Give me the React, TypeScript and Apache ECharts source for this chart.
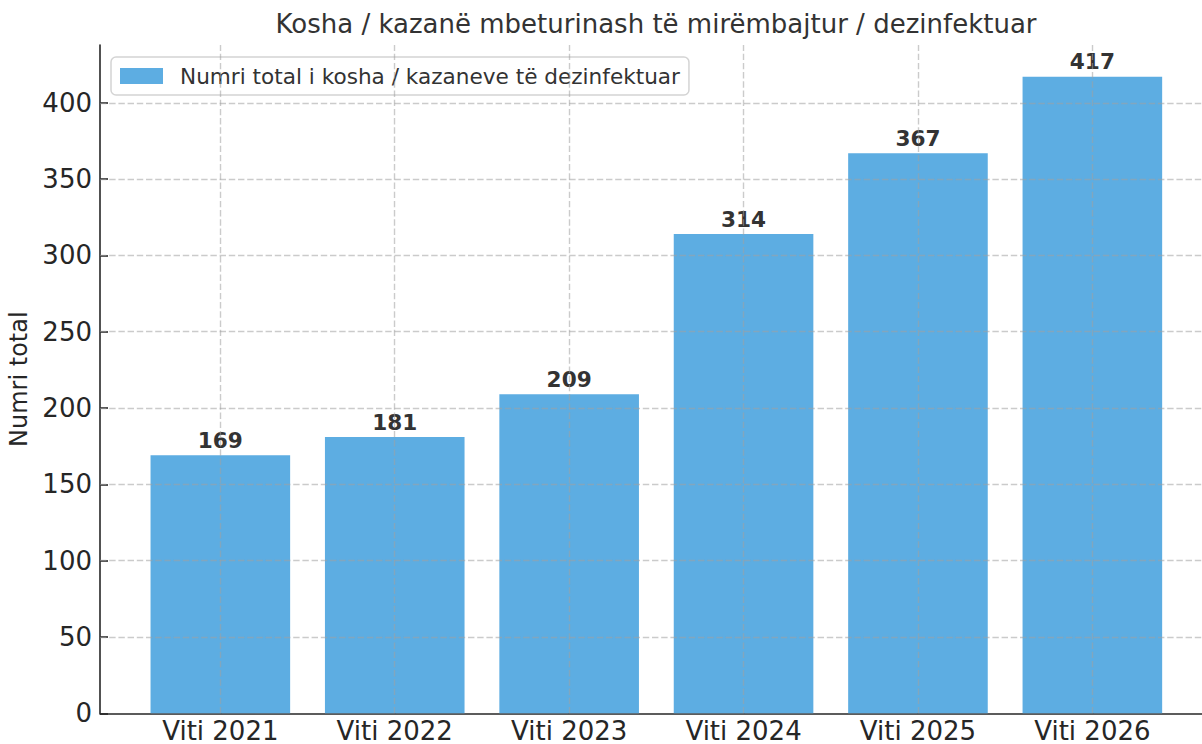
import React, { useEffect, useRef } from "react";
import * as echarts from "echarts";

const titleText = "Kosha / kazanë mbeturinash të mirëmbajtur / dezinfektuar";
const seriesName = "Numri total i kosha / kazaneve të dezinfektuar";
const yAxisName = "Numri total";
const categories = ["Viti 2021", "Viti 2022", "Viti 2023", "Viti 2024", "Viti 2025", "Viti 2026"];
const values = [169, 181, 209, 314, 367, 417];
const yTicks = [0, 50, 100, 150, 200, 250, 300, 350, 400];

const FONT = "DejaVu Sans";

export default function App() {
  const ref = useRef<HTMLDivElement>(null);
  useEffect(() => {
    if (!ref.current) return;
    const chart = echarts.init(ref.current, undefined, { renderer: "svg" });
    const idx = categories.map((_, i) => i);
    const gridColor = "rgba(160,160,160,0.55)";
    const gridLine = { color: gridColor, type: [6.4, 2.8] as any, width: 1.4 };
    chart.setOption({
      animation: false,
      textStyle: { fontFamily: FONT },
      graphic: [
        {
          type: "text",
          x: 656,
          y: 24,
          style: {
            text: titleText,
            fontFamily: FONT,
            fontSize: 26,
            fill: "#333333",
            textAlign: "center",
            textVerticalAlign: "middle",
          },
        },
      ],
      legend: {
        data: [seriesName],
        left: 111,
        top: 57,
        icon: "rect",
        itemWidth: 43,
        itemHeight: 16,
        backgroundColor: "rgba(255,255,255,0.85)",
        borderColor: "#d4d4d4",
        borderWidth: 1.5,
        borderRadius: 5,
        padding: [8, 9, 8, 9],
        textStyle: {
          fontFamily: FONT,
          fontSize: 21.6,
          color: "#333333",
          lineHeight: 22,
          padding: [0, 0, 0, 12],
        },
      },
      grid: {
        left: 100,
        top: 45,
        width: 1112.7,
        bottom: 30.7,
        containLabel: false,
        outerBoundsMode: "none",
      },
      xAxis: {
        type: "value",
        min: -0.69,
        max: 5.69,
        axisLine: { show: true, onZero: false, lineStyle: { color: "#262626", width: 1.6 } },
        axisTick: {
          show: true,
          inside: true,
          length: 8,
          customValues: idx,
          lineStyle: { color: "#262626", width: 1.6 },
        },
        axisLabel: {
          customValues: idx,
          formatter: (v: number) => categories[Math.round(v)] ?? "",
          fontFamily: FONT,
          fontSize: 26,
          color: "#262626",
          margin: 5,
        },
        splitLine: { show: false },
      },
      yAxis: {
        type: "value",
        min: 0,
        max: 437.85,
        name: yAxisName,
        nameLocation: "middle",
        nameRotate: 90,
        nameGap: 60,
        nameTextStyle: { fontFamily: FONT, fontSize: 24, color: "#262626" },
        axisLine: { show: true, onZero: false, lineStyle: { color: "#262626", width: 1.6 } },
        axisTick: {
          show: true,
          inside: true,
          length: 8,
          customValues: yTicks,
          lineStyle: { color: "#262626", width: 1.6 },
        },
        axisLabel: {
          customValues: yTicks,
          fontFamily: FONT,
          fontSize: 26,
          color: "#262626",
          margin: 8,
        },
        splitLine: { show: false },
      },
      series: [
        {
          name: seriesName,
          type: "bar",
          barWidth: 139.6,
          data: values.map((v, i) => [i, v]),
          itemStyle: { color: "#5DADE2" },
          label: {
            show: true,
            position: "top",
            distance: 4,
            formatter: (p: any) => String(p.value[1]),
            fontFamily: FONT,
            fontSize: 21.6,
            fontWeight: "bold",
            color: "#333333",
          },
          markLine: {
            silent: true,
            symbol: ["none", "none"],
            label: { show: false },
            lineStyle: gridLine,
            data: [
              ...yTicks.filter((t) => t > 0).map((t) => ({ yAxis: t })),
              ...idx.map((i) => ({ xAxis: i })),
            ],
          },
        },
      ],
    });
    return () => chart.dispose();
  }, []);
  return (
    <div
      ref={ref}
      style={{ position: "absolute", left: 0, top: 0, width: 1202, height: 744 }}
    />
  );
}
